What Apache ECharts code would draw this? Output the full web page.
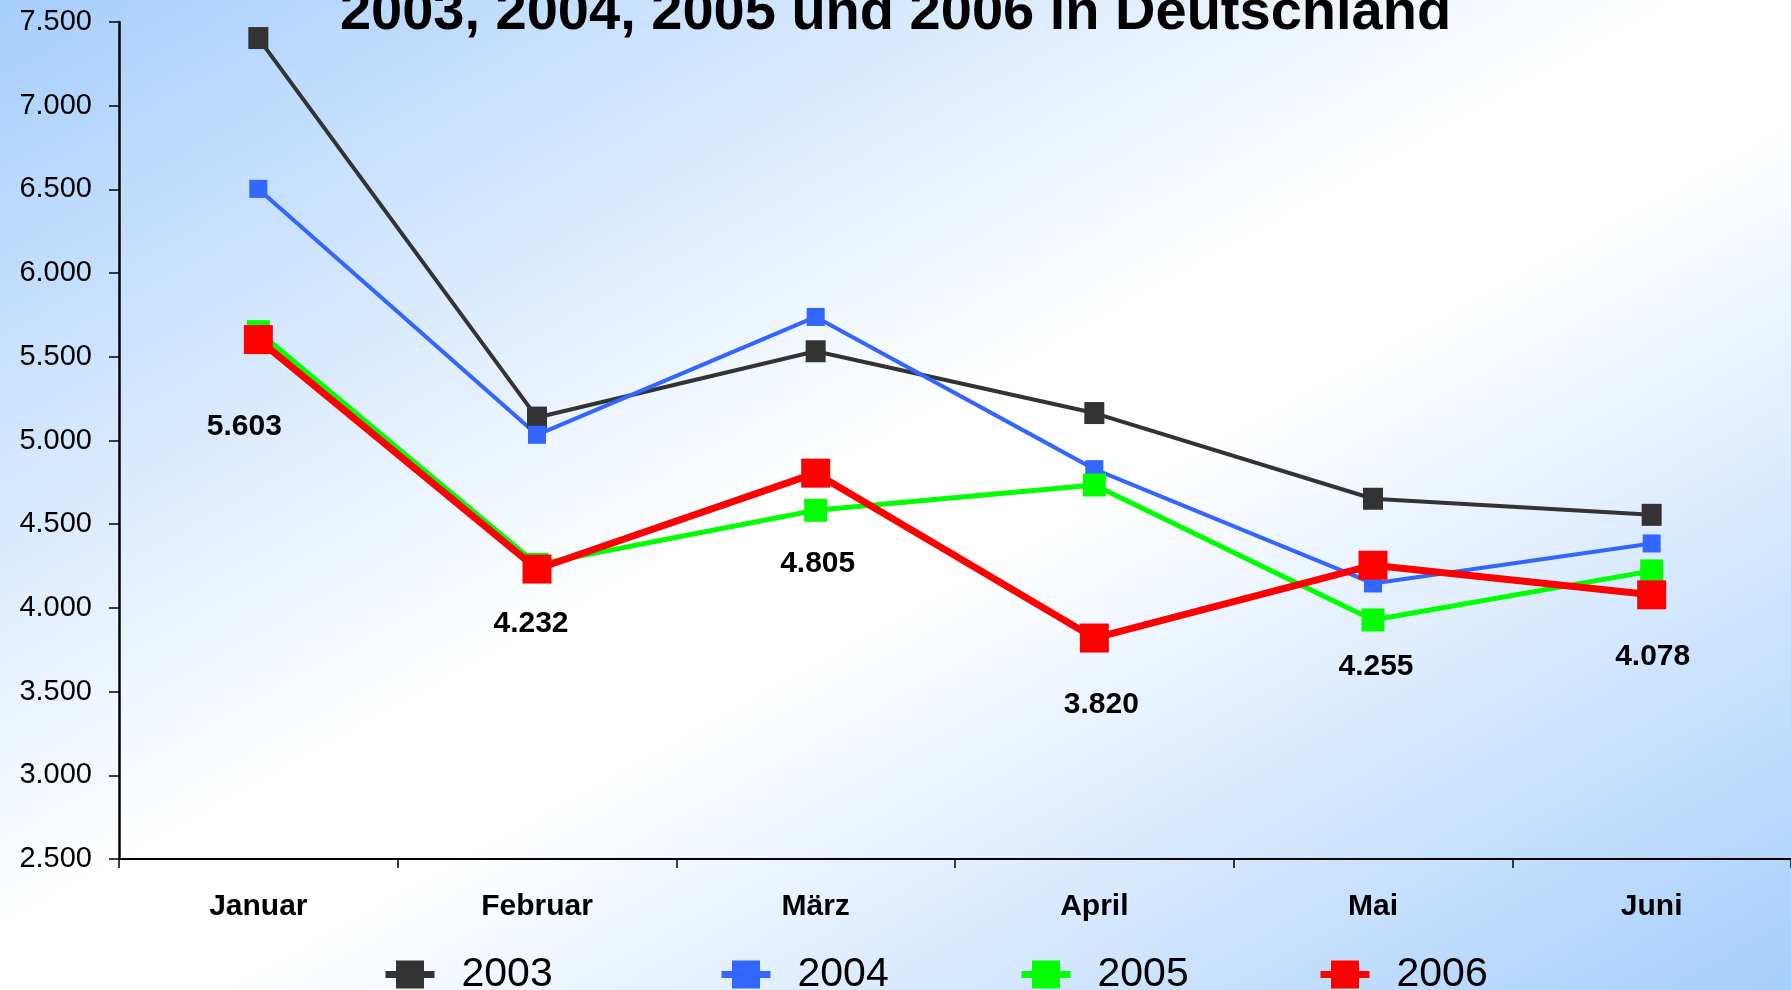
<!DOCTYPE html>
<html>
<head>
<meta charset="utf-8">
<title>2003, 2004, 2005 und 2006 in Deutschland</title>
<script src="https://cdn.jsdelivr.net/npm/echarts@6/dist/echarts.min.js"></script>
<style>
    html, body { margin: 0; padding: 0; }
    #main { width: 1791px; height: 990px; }
</style>
</head>
<body>
<div id="main"></div>
<script>
var months = ['Januar', 'Februar', 'März', 'April', 'Mai', 'Juni'];
var years = ['2003', '2004', '2005', '2006'];
var data2003 = [7404, 5137, 5533, 5164, 4652, 4556];
var data2004 = [6503, 5034, 5738, 4829, 4146, 4385];
var data2005 = [5650, 4260, 4583, 4734, 3928, 4221];
var data2006 = [5603, 4232, 4805, 3820, 4255, 4078];
var yTicks = [2500, 3000, 3500, 4000, 4500, 5000, 5500, 6000, 6500, 7000, 7500];

var colors = ['#333333', '#3366ff', '#00ff00', '#ff0000'];
var font = '"Liberation Sans", Arial, sans-serif';

// Beschriftung 2006 sitzt unterhalb der Punkte, jeweils etwas verschoben
var labelOffsets = [[-14, 87], [-6, 55], [2, 91], [7, 67], [3, 102], [1, 62]];

function fmt(v) {
    var s = String(Math.round(v));
    return s.replace(/\B(?=(\d{3})+(?!\d))/g, '.');
}

var chart = echarts.init(document.getElementById('main'));

var option = {
    backgroundColor: {
        type: 'linear',
        x: 0, y: 0, x2: 838, y2: 1517,
        global: true,
        colorStops: [
            { offset: 0, color: '#a6cefc' },
            { offset: 0.47, color: '#ffffff' },
            { offset: 0.56, color: '#ffffff' },
            { offset: 1, color: '#a6cefc' }
        ]
    },
    color: colors,
    title: {
        text: '2003, 2004, 2005 und 2006 in Deutschland',
        left: 'center',
        top: -14,
        padding: 0,
        textStyle: {
            fontFamily: font,
            fontSize: 56,
            fontWeight: 'bold',
            color: '#000',
            textShadowColor: '#ffffff',
            textShadowOffsetX: 3,
            textShadowOffsetY: 3,
            textShadowBlur: 0
        }
    },
    legend: [
        { left: 382 },
        { left: 718 },
        { left: 1018 },
        { left: 1317 }
    ].map(function (l, i) {
        return {
            data: [years[i]],
            left: l.left,
            top: 954,
            itemWidth: 49,
            itemHeight: 35,
            itemGap: 0,
            padding: 0,
            textStyle: { fontFamily: font, fontSize: 41, color: '#000', padding: [0, 0, 0, 22] },
            lineStyle: { width: 7 }
        };
    }),
    grid: {
        left: 119,
        right: 0,
        top: 22,
        bottom: 131
    },
    xAxis: {
        type: 'category',
        data: months,
        boundaryGap: true,
        axisLine: { lineStyle: { color: '#000', width: 2 } },
        axisTick: { show: true, length: 9, lineStyle: { color: '#000', width: 1.5 } },
        axisLabel: {
            margin: 33,
            fontFamily: font,
            fontSize: 30,
            fontWeight: 'bold',
            color: '#000'
        },
        splitLine: { show: false }
    },
    yAxis: {
        type: 'value',
        min: yTicks[0],
        max: yTicks[yTicks.length - 1],
        interval: 500,
        axisLine: { show: true, lineStyle: { color: '#000', width: 2.5 } },
        axisTick: { show: true, length: 10, lineStyle: { color: '#000', width: 1.5 } },
        axisLabel: {
            margin: 27,
            fontFamily: font,
            fontSize: 29,
            color: '#000',
            formatter: fmt
        },
        splitLine: { show: false }
    },
    series: [
        {
            name: '2003',
            type: 'line',
            data: data2003,
            symbol: 'rect',
            symbolSize: [20, 22],
            lineStyle: { width: 4, color: colors[0] },
            itemStyle: { color: colors[0] }
        },
        {
            name: '2004',
            type: 'line',
            data: data2004,
            symbol: 'rect',
            symbolSize: 18,
            lineStyle: { width: 4, color: colors[1] },
            itemStyle: { color: colors[1] }
        },
        {
            name: '2005',
            type: 'line',
            data: data2005,
            symbol: 'rect',
            symbolSize: 23,
            lineStyle: { width: 5, color: colors[2] },
            itemStyle: { color: colors[2] }
        },
        {
            name: '2006',
            type: 'line',
            data: data2006.map(function (v, i) {
                return { value: v, label: { offset: labelOffsets[i] } };
            }),
            symbol: 'rect',
            symbolSize: 29,
            lineStyle: { width: 7, color: colors[3] },
            itemStyle: { color: colors[3] },
            label: {
                show: true,
                position: 'inside',
                fontFamily: font,
                fontSize: 30,
                fontWeight: 'bold',
                color: '#000',
                formatter: function (p) { return fmt(p.value); }
            }
        }
    ]
};

chart.setOption(option);
window.addEventListener('resize', function () {
    chart.resize();
});
</script>
</body>
</html>
